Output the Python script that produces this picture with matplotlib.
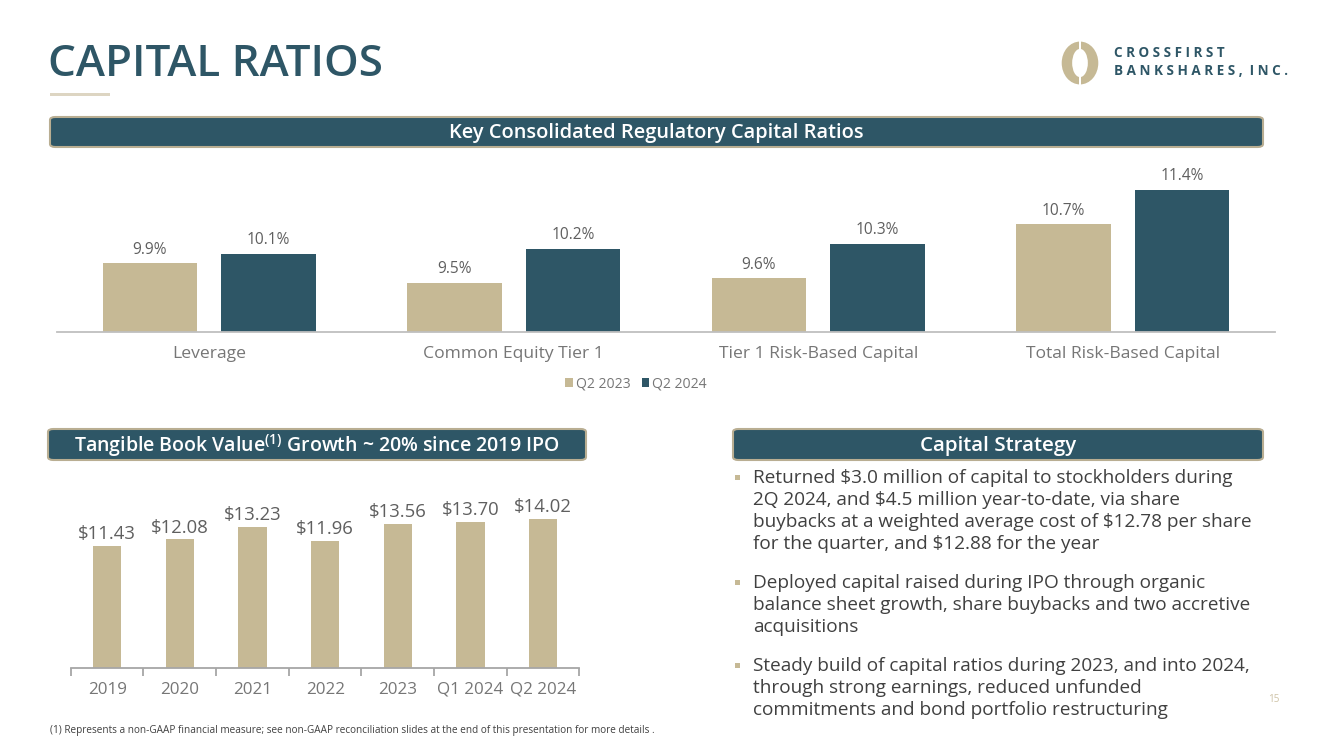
import matplotlib
matplotlib.use("Agg")
import matplotlib.pyplot as plt
from matplotlib.patches import FancyBboxPatch, Rectangle, Ellipse
import numpy as np

# ---------------- data ----------------
ratio_categories = ["Leverage", "Common Equity Tier 1", "Tier 1 Risk-Based Capital", "Total Risk-Based Capital"]
ratio_q2_2023 = [9.9, 9.5, 9.6, 10.7]
ratio_q2_2024 = [10.1, 10.2, 10.3, 11.4]
series_names = ["Q2 2023", "Q2 2024"]

tbv_periods = ["2019", "2020", "2021", "2022", "2023", "Q1 2024", "Q2 2024"]
tbv_values = [11.43, 12.08, 13.23, 11.96, 13.56, 13.70, 14.02]

bullets = [
    ["Returned $3.0 million of capital to stockholders during",
     "2Q 2024, and $4.5 million year-to-date, via share",
     "buybacks at a weighted average cost of $12.78 per share",
     "for the quarter, and $12.88 for the year"],
    ["Deployed capital raised during IPO through organic",
     "balance sheet growth, share buybacks and two accretive",
     "acquisitions"],
    ["Steady build of capital ratios during 2023, and into 2024,",
     "through strong earnings, reduced unfunded",
     "commitments and bond portfolio restructuring"],
]

# ---------------- style ----------------
TAN = "#C6B995"
TEAL = "#2E5666"
GREY = "#5F5F5F"
LGREY = "#767676"
FONT = "Open Sans"
plt.rcParams["font.family"] = [FONT, "DejaVu Sans"]
plt.rcParams["mathtext.default"] = "regular"

W, H = 1333, 749
fig = plt.figure(figsize=(W / 100, H / 100), dpi=100)
fig.patch.set_facecolor("white")


def fx(x):
    return x / W


def fy(y):
    return 1 - y / H


def rect_px(x0, y0, x1, y1):
    return [x0 / W, 1 - y1 / H, (x1 - x0) / W, (y1 - y0) / H]


def pt(px):
    return px * 0.72


# ---------------- title ----------------
fig.text(fx(48), fy(65), "CAPITAL RATIOS", fontsize=pt(44), fontweight="semibold",
         color=TEAL, ha="left", va="center")
fig.patches.append(Rectangle((fx(50), fy(96)), fx(60), 3 / H, transform=fig.transFigure,
                             facecolor="#DDD5C2", edgecolor="none"))

# logo
logo_ax = fig.add_axes(rect_px(1055, 40, 1105, 86))
logo_ax.set_xlim(-1.1, 1.1)
logo_ax.set_ylim(-1.1, 1.1)
logo_ax.set_aspect("equal")
logo_ax.axis("off")
logo_ax.add_patch(Ellipse((0, 0), 1.75, 2.05, facecolor=TAN, edgecolor="none"))
logo_ax.add_patch(Ellipse((0, 0), 0.75, 1.35, facecolor="white", edgecolor="none"))
logo_ax.add_patch(Rectangle((-0.07, -1.1), 0.14, 2.2, facecolor="white", edgecolor="none"))
fig.text(fx(1114), fy(53), "C R O S S F I R S T", fontsize=pt(13.5), fontweight="bold",
         color=TEAL, ha="left", va="center")
fig.text(fx(1114), fy(71), "B A N K S H A R E S ,  I N C .", fontsize=pt(13.5), fontweight="bold",
         color=TEAL, ha="left", va="center")


# ---------------- banners ----------------
def banner(x0, y0, x1, y1, text, size):
    fig.patches.append(FancyBboxPatch((fx(x0), fy(y1)), fx(x1 - x0), (y1 - y0) / H,
                                      boxstyle="round,pad=0,rounding_size=0.004",
                                      transform=fig.transFigure, facecolor=TEAL,
                                      edgecolor="#B9AE92", linewidth=1.5))
    fig.text(fx((x0 + x1) / 2), fy((y0 + y1) / 2 + 1), text, fontsize=pt(size),
             fontweight="semibold", color="white", ha="center", va="center")


banner(50, 117, 1263, 147, "Key Consolidated Regulatory Capital Ratios", 20)
banner(48, 429, 586, 460, r"Tangible Book Value$^{(1)}$ Growth ~ 20% since 2019 IPO", 19.5)
banner(733, 429, 1263, 460, "Capital Strategy", 20.5)

# ---------------- top chart ----------------
ax1 = fig.add_axes(rect_px(57, 160.5, 1275, 332))
x = np.arange(len(ratio_categories))
bw = 0.31
off = 0.195
b1 = ax1.bar(x - off, ratio_q2_2023, width=bw, color=TAN, label=series_names[0], zorder=2)
b2 = ax1.bar(x + off, ratio_q2_2024, width=bw, color=TEAL, label=series_names[1], zorder=2)
ax1.set_ylim(8.5, 12.0)
ax1.set_xlim(-0.5, 3.5)
for bars, vals in ((b1, ratio_q2_2023), (b2, ratio_q2_2024)):
    for rect, v in zip(bars, vals):
        ax1.annotate(f"{v:.1f}%", (rect.get_x() + rect.get_width() / 2, v),
                     xytext=(0, 4), textcoords="offset points", ha="center", va="bottom",
                     fontsize=pt(15.5), color=GREY)
for s in ["top", "right", "left"]:
    ax1.spines[s].set_visible(False)
ax1.spines["bottom"].set_color("#BFBFBF")
ax1.spines["bottom"].set_linewidth(1.3)
ax1.set_yticks([])
ax1.set_xticks(x)
ax1.set_xticklabels(ratio_categories, fontsize=pt(17.5), color=LGREY)
ax1.tick_params(axis="x", length=0, pad=10)
ax1.patch.set_alpha(0)
fig.legend(handles=[b1, b2], labels=series_names, loc="center",
           bbox_to_anchor=(fx(636), fy(384)), ncol=2, frameon=False,
           fontsize=pt(14), labelcolor=LGREY, handlelength=0.55, handleheight=0.55,
           handletextpad=0.2, columnspacing=0.8)

# ---------------- bottom chart ----------------
ax2 = fig.add_axes(rect_px(70.8, 498, 579.5, 668))
xb = np.arange(len(tbv_periods))
bars = ax2.bar(xb, tbv_values, width=0.39, color=TAN, zorder=2)
ax2.set_xlim(-0.5, len(tbv_periods) - 0.5)
ax2.set_ylim(0, 170 / 10.65)
for rect, v in zip(bars, tbv_values):
    ax2.annotate(f"${v:.2f}", (rect.get_x() + rect.get_width() / 2, v),
                 xytext=(0, 2), textcoords="offset points", ha="center", va="bottom",
                 fontsize=pt(18.5), color=GREY)
for s in ["top", "right", "left"]:
    ax2.spines[s].set_visible(False)
ax2.spines["bottom"].set_color("#A6A6A6")
ax2.spines["bottom"].set_linewidth(1.3)
ax2.set_yticks([])
ax2.set_xticks(xb)
ax2.set_xticklabels(tbv_periods, fontsize=pt(17), color=LGREY)
ax2.tick_params(axis="x", length=0, pad=10)
ax2.set_xticks(np.arange(-0.5, len(tbv_periods)), minor=True)
ax2.tick_params(axis="x", which="minor", length=6, width=1.3, color="#A6A6A6")
ax2.patch.set_alpha(0)

# ---------------- bullets ----------------
starts = [478, 583, 666]
for lines, y0 in zip(bullets, starts):
    fig.patches.append(Rectangle((fx(735), fy(y0 + 2)), 5 / W, 5 / H, transform=fig.transFigure,
                                 facecolor=TAN, edgecolor="none"))
    for i, line in enumerate(lines):
        fig.text(fx(753), fy(y0 + 22 * i), line, fontsize=pt(19), color="#404040",
                 ha="left", va="center")

# footnote & page number
fig.text(fx(50), fy(730), "(1) Represents a non-GAAP financial measure; see non-GAAP reconciliation slides at the end of this presentation for more details .",
         fontsize=pt(10), color="#404040", ha="left", va="center")
fig.text(fx(1274), fy(700), "15", fontsize=pt(10), color="#CFC4A8", ha="center", va="center")

fig.savefig("out.png", dpi=100, facecolor="white")
